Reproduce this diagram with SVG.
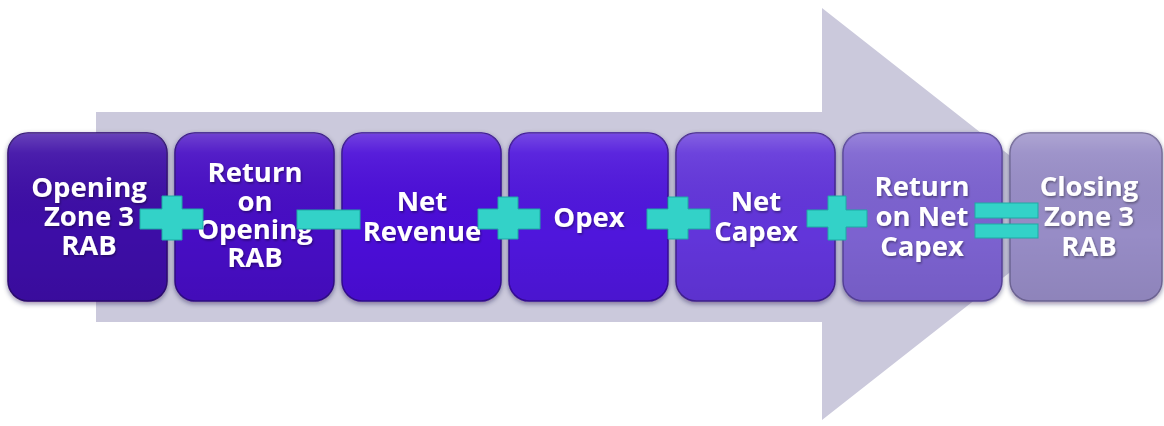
<svg xmlns="http://www.w3.org/2000/svg" width="1164" height="426" viewBox="0 0 1164 426">
  <defs>
    <linearGradient id="gloss" x1="0" y1="0" x2="0" y2="1">
      <stop offset="0" stop-color="#ffffff" stop-opacity="0.22"/>
      <stop offset="0.12" stop-color="#ffffff" stop-opacity="0.07"/>
      <stop offset="0.6" stop-color="#000000" stop-opacity="0"/>
      <stop offset="1" stop-color="#000000" stop-opacity="0.06"/>
    </linearGradient>
    <filter id="shadow" x="-10%" y="-10%" width="120%" height="125%">
      <feDropShadow dx="0" dy="2" stdDeviation="2.5" flood-color="#1a0d40" flood-opacity="0.45"/>
    </filter>
    <filter id="txtShadow" x="-10%" y="-10%" width="120%" height="130%">
      <feDropShadow dx="1" dy="1.5" stdDeviation="1" flood-color="#000000" flood-opacity="0.4"/>
    </filter>
  </defs>
  <style>
    .box { stroke-width: 1.5; filter: url(#shadow); }
    .gloss { fill: url(#gloss); }
    .lbl { font-family: "Open Sans", "DejaVu Sans", sans-serif; font-weight: 700; font-size: 27.5px; fill: #ffffff; text-anchor: middle; filter: url(#txtShadow); }
    .op { fill: #33d2c8; stroke: #1fa9a4; stroke-width: 1; }
  </style>

  <rect width="1164" height="426" fill="#ffffff"/>

  <!-- background flow arrow -->
  <polygon points="96,112 822,112 822,8 1084,214 822,420 822,322 96,322" fill="#cbc9dc"/>

  <g id="n1">
    <rect class="box" x="8" y="133" width="159" height="168" rx="20" fill="#3d0ea6" stroke="#2a0870"/>
    <rect class="gloss" x="8" y="133" width="159" height="168" rx="20"/>
    <text class="lbl"><tspan x="89" y="197">Opening</tspan><tspan x="89" y="226">Zone 3</tspan><tspan x="89" y="255">RAB</tspan></text>
  </g>
  <g id="n2">
    <rect class="box" x="175" y="133" width="159" height="168" rx="20" fill="#470fc4" stroke="#2f0a85"/>
    <rect class="gloss" x="175" y="133" width="159" height="168" rx="20"/>
    <text class="lbl"><tspan x="255" y="182">Return</tspan><tspan x="255" y="211">on</tspan><tspan x="255" y="239">Opening</tspan><tspan x="255" y="267">RAB</tspan></text>
  </g>
  <g id="n3">
    <rect class="box" x="342" y="133" width="159" height="168" rx="20" fill="#4b10d8" stroke="#320a90"/>
    <rect class="gloss" x="342" y="133" width="159" height="168" rx="20"/>
    <text class="lbl"><tspan x="422" y="211">Net</tspan><tspan x="422" y="241">Revenue</tspan></text>
  </g>
  <g id="n4">
    <rect class="box" x="509" y="133" width="159" height="168" rx="20" fill="#5014dc" stroke="#350c95"/>
    <rect class="gloss" x="509" y="133" width="159" height="168" rx="20"/>
    <text class="lbl" x="589" y="227">Opex</text>
  </g>
  <g id="n5">
    <rect class="box" x="676" y="133" width="159" height="168" rx="20" fill="#6234da" stroke="#40208f"/>
    <rect class="gloss" x="676" y="133" width="159" height="168" rx="20"/>
    <text class="lbl"><tspan x="756" y="211">Net</tspan><tspan x="756" y="241">Capex</tspan></text>
  </g>
  <g id="n6">
    <rect class="box" x="843" y="133" width="159" height="168" rx="20" fill="#7b62d0" stroke="#564399"/>
    <rect class="gloss" x="843" y="133" width="159" height="168" rx="20"/>
    <text class="lbl"><tspan x="922" y="196">Return</tspan><tspan x="922" y="226">on Net</tspan><tspan x="922" y="256">Capex</tspan></text>
  </g>
  <g id="n7">
    <rect class="box" x="1010" y="133" width="152" height="168" rx="20" fill="#978cc6" stroke="#6f6696"/>
    <rect class="gloss" x="1010" y="133" width="152" height="168" rx="20"/>
    <text class="lbl"><tspan x="1089" y="196">Closing</tspan><tspan x="1089" y="226">Zone 3</tspan><tspan x="1089" y="256">RAB</tspan></text>
  </g>

  <!-- operators between terms -->
  <g id="connectors">
    <path class="op" d="M162,196 h20 v13 h21 v20 h-21 v11 h-20 v-11 h-22 v-20 h22 z"/>
    <rect class="op" x="297" y="210" width="63" height="19"/>
    <path class="op" d="M498,197 h20 v12 h22 v20 h-22 v10 h-20 v-10 h-20 v-20 h20 z"/>
    <path class="op" d="M668,197 h20 v12 h22 v20 h-22 v10 h-20 v-10 h-21 v-20 h21 z"/>
    <path class="op" d="M828,196 h18 v14 h21 v17 h-21 v13 h-18 v-13 h-21 v-17 h21 z"/>
    <rect class="op" x="975" y="203" width="63" height="15"/>
    <rect class="op" x="975" y="224" width="63" height="14"/>
  </g>
</svg>
